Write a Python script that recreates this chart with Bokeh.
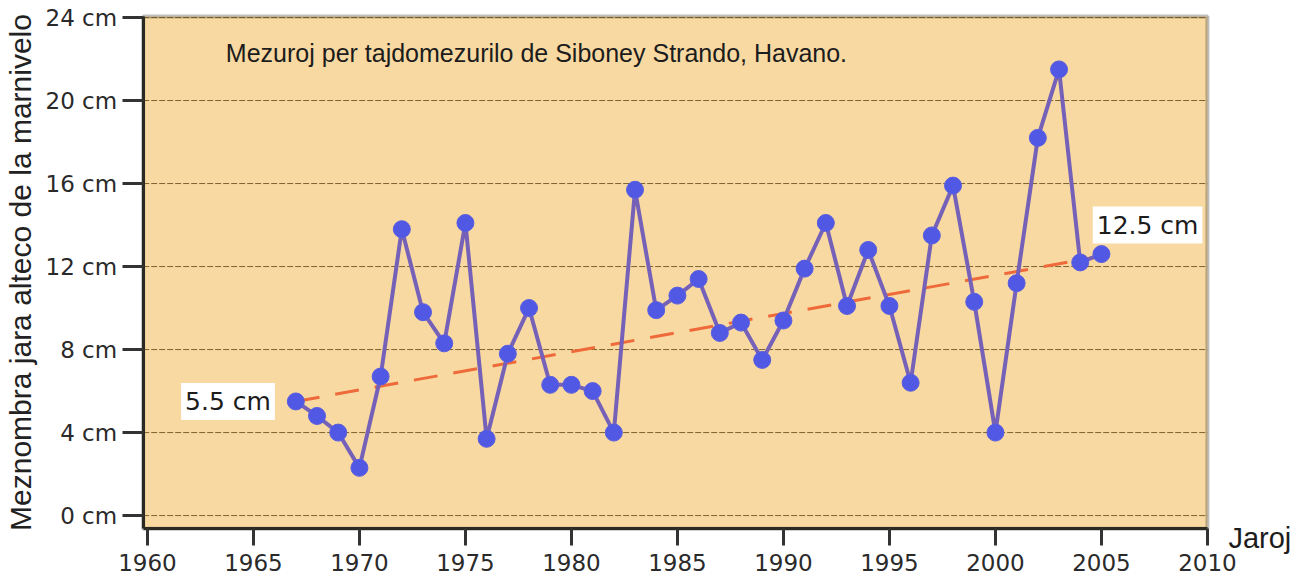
from bokeh.plotting import figure
from bokeh.models import Range1d, FixedTicker, Label, CustomJSTickFormatter, BoxAnnotation
from bokeh.embed import file_html
from bokeh.resources import INLINE

# ---- data ----
years = list(range(1967, 2006))
sea_level_cm = [5.5, 4.8, 4.0, 2.3, 6.7, 13.8, 9.8, 8.3, 14.1, 3.7,
                7.8, 10.0, 6.3, 6.3, 6.0, 4.0, 15.7, 9.9, 10.6, 11.4,
                8.8, 9.3, 7.5, 9.4, 11.9, 14.1, 10.1, 12.8, 10.1, 6.4,
                13.5, 15.9, 10.3, 4.0, 11.2, 18.2, 21.5, 12.2, 12.6]
trend_years = [1967, 2005]
trend_cm = [5.5, 12.5]
x_ticks = [1960, 1965, 1970, 1975, 1980, 1985, 1990, 1995, 2000, 2005, 2010]
y_ticks = [0, 4, 8, 12, 16, 20, 24]
title_text = "Mezuroj per tajdomezurilo de Siboney Strando, Havano."
y_label = "Meznombra jara alteco de la marnivelo"
x_label = "Jaroj"
start_label = "5.5 cm"
end_label = "12.5 cm"

# chart area (data units) and the whole-canvas range around it
area_x = (1959.8, 2010.0)
area_y = (-0.63, 24.05)
view_x = (1953.07, 2014.72)
view_y = (-3.08, 24.82)

p = figure(width=1307, height=579, output_backend="svg", toolbar_location=None,
           x_range=Range1d(*view_x), y_range=Range1d(*view_y),
           min_border_left=0, min_border_top=0, min_border_right=0,
           min_border_bottom=0)
p.background_fill_color = "white"
p.border_fill_color = "white"
p.outline_line_color = None
p.xgrid.grid_line_color = None
p.ygrid.grid_line_color = None

# tan chart area with dark border
p.add_layout(BoxAnnotation(left=area_x[0], right=area_x[1], bottom=area_y[0], top=area_y[1],
                           fill_color="#f8d9a2", fill_alpha=1.0,
                           line_color="#2b2a22", line_width=4, level="image"))

# horizontal grid lines at the y ticks
p.segment(x0=[area_x[0]] * len(y_ticks), x1=[area_x[1]] * len(y_ticks),
          y0=y_ticks, y1=y_ticks, line_color="#6e5524", line_width=1,
          line_dash="6 2", line_alpha=0.9)

# axes, pinned to the chart area's edges
p.xaxis.ticker = FixedTicker(ticks=x_ticks)
p.xaxis.fixed_location = area_y[0]
p.xaxis.bounds = area_x
p.yaxis.ticker = FixedTicker(ticks=y_ticks)
p.yaxis.fixed_location = area_x[0]
p.yaxis.bounds = area_y
p.yaxis.formatter = CustomJSTickFormatter(code="return tick + ' cm';")
for ax in (p.xaxis[0], p.yaxis[0]):
    ax.axis_line_color = "#2b2a22"
    ax.axis_line_width = 3
    ax.major_tick_line_color = "#333333"
    ax.major_tick_line_width = 3
    ax.major_tick_in = 0
    ax.minor_tick_line_color = None
    ax.major_label_text_font = "DejaVu Sans"
    ax.major_label_text_color = "#2a2a2a"
    ax.major_label_text_font_size = "23px"
p.xaxis.major_tick_out = 17
p.xaxis.major_label_standoff = 8
p.yaxis.major_tick_out = 21
p.yaxis.major_label_standoff = 5
p.yaxis.axis_label = y_label
p.yaxis.axis_label_text_font = "Liberation Sans"
p.yaxis.axis_label_text_font_style = "normal"
p.yaxis.axis_label_text_font_size = "30px"
p.yaxis.axis_label_text_color = "#222222"
p.yaxis.axis_label_standoff = 6

# trend line
p.line(trend_years, trend_cm, line_color="#ef6a3a", line_width=3,
       line_dash="24 16")

# data
p.line(years, sea_level_cm, line_color="#7562b8", line_width=4)
p.scatter(years, sea_level_cm, size=17, fill_color="#5058e4",
          line_color="#5a5ee0", line_width=1)

# texts
p.add_layout(Label(x=1963.7, y=22.3, text=title_text, text_font="Liberation Sans",
                   text_font_size="25px", text_color="#1c1c1c",
                   text_baseline="alphabetic"))
p.add_layout(Label(x=1963.8, y=5.5, text=start_label, text_font="DejaVu Sans",
                   text_font_size="25px", text_color="#1c1c1c",
                   text_align="center", text_baseline="middle",
                   background_fill_color="white", padding=4))
p.add_layout(Label(x=area_x[1], y=14.0, x_offset=-5, text=end_label, text_font="DejaVu Sans",
                   text_font_size="25px", text_color="#1c1c1c",
                   text_align="right", text_baseline="middle",
                   background_fill_color="white", padding=4))
p.add_layout(Label(x=area_x[1], y=-1.1, x_offset=21, text=x_label,
                   text_font="Liberation Sans", text_font_size="29px",
                   text_color="#1c1c1c", text_baseline="alphabetic"))

open("out.html", "w").write(file_html(p, INLINE))
